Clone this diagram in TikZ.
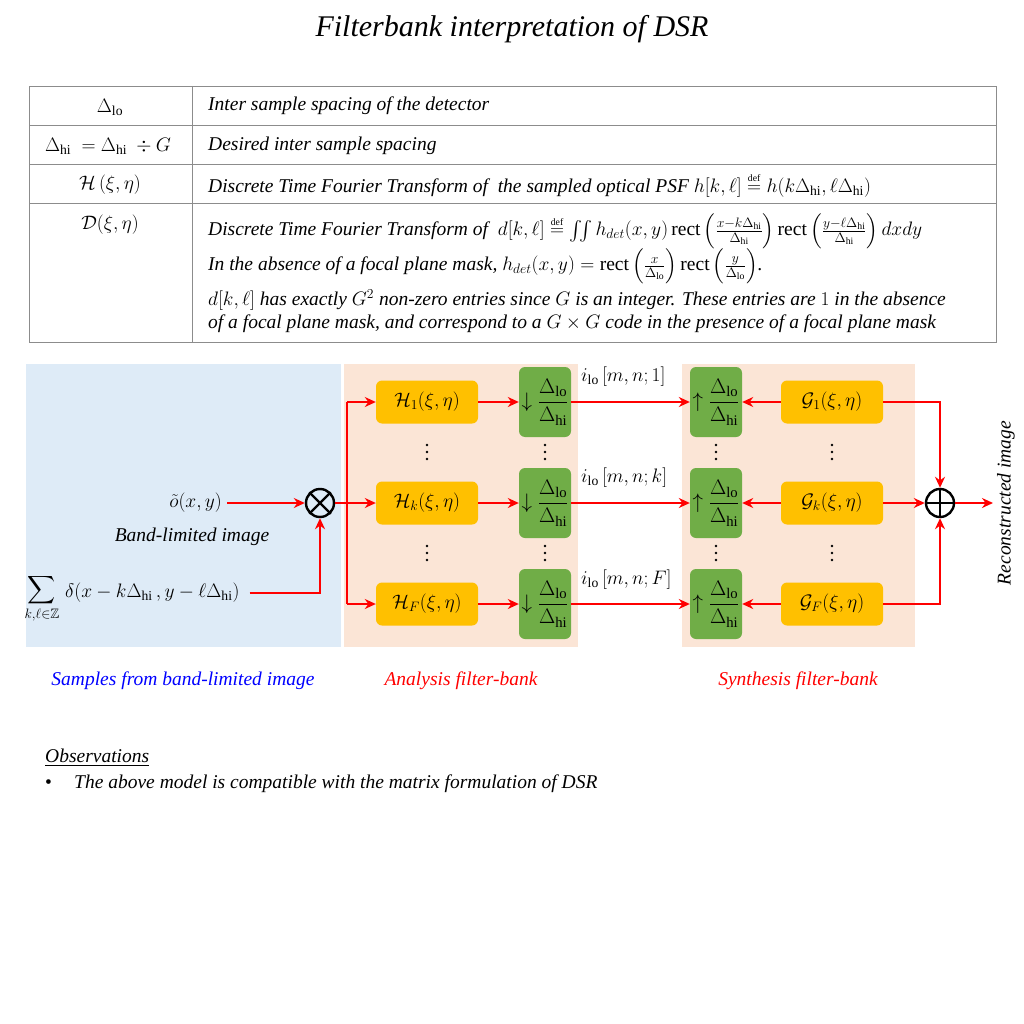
\documentclass[tikz,border=0pt]{standalone}
\usepackage{fix-cm}
\usepackage{amsmath,amssymb}
\usepackage{fontspec}
\setmainfont{Liberation Serif}
\usetikzlibrary{arrows.meta}
\definecolor{bluep}{HTML}{DEEBF7}
\definecolor{peach}{HTML}{FBE5D6}
\definecolor{byellow}{HTML}{FFC000}
\definecolor{bgreen}{HTML}{70AD47}
\definecolor{tgray}{HTML}{8C8C8C}
\definecolor{lblue}{HTML}{0000FF}
\newcommand{\lo}{\mathrm{lo}}
\newcommand{\hi}{\mathrm{hi}}
\newcommand{\mydef}{\stackrel{\scriptscriptstyle\mathrm{def}}{=}}
\tikzset{
 txt/.style={inner sep=0pt},
 itx/.style={inner sep=0pt, font=\fontsize{19.5}{23}\selectfont\itshape, anchor=west},
 tline/.style={draw=tgray, line width=0.9pt},
 hbox/.style={fill=byellow, rounded corners=6pt, minimum width=102pt, minimum height=43pt, inner sep=0pt},
 dbox/.style={fill=bgreen, rounded corners=6pt, minimum width=52pt, minimum height=70pt, inner sep=0pt, font=\fontsize{21}{25}\selectfont},
 wire/.style={draw=red, line width=2pt},
 arr/.style={wire, -{Stealth[length=11pt,width=10pt]}},
 op/.style={circle, draw=black, line width=2.4pt, minimum size=28pt, inner sep=0pt},
 vdot/.style={fill=black},
}
\begin{document}
\begin{tikzpicture}[x=1pt,y=-1pt,font=\fontsize{19.5}{23}\selectfont]
\useasboundingbox (0,0) rectangle (1024,1024);
\fill[white] (0,0) rectangle (1024,1024);
% title
\node[txt,font=\fontsize{30}{36}\selectfont\itshape] (title) at (512,29) {Filterbank interpretation of DSR};
% table
\draw[tline] (29,86) rectangle (996,342);
\draw[tline] (29,125) -- (996,125);
\draw[tline] (29,164) -- (996,164);
\draw[tline] (29,203) -- (996,203);
\draw[tline] (192,86) -- (192,342);
\node[txt] (l1) at (110,107) {$\Delta_{\lo}$};
\node[txt] (l2) at (108,146) {$\Delta_{\hi}\ =\Delta_{\hi}\ \div G$};
\node[txt] (l3) at (110,185) {$\mathcal{H}\,(\xi,\eta)$};
\node[txt] (l4) at (110,225) {$\mathcal{D}(\xi,\eta)$};
\node[itx] (r1) at (208,106) {Inter sample spacing of the detector};
\node[itx] (r2) at (208,146) {Desired inter sample spacing};
\node[itx] (r3) at (208,185) {Discrete Time Fourier Transform of \ the sampled optical PSF $h[k,\ell]\mydef h(k\Delta_{\hi},\ell\Delta_{\hi})$};
\node[itx] (r4a) at (208,231) {Discrete Time Fourier Transform of \ $d[k,\ell]\mydef\iint h_{det}(x,y)\,\mathrm{rect}\left(\tfrac{x-k\Delta_{\hi}}{\Delta_{\hi}}\right)\mathrm{rect}\left(\tfrac{y-\ell\Delta_{\hi}}{\Delta_{\hi}}\right)dxdy$};
\node[itx] (r4b) at (208,266) {In the absence of a focal plane mask, $h_{det}(x,y)=\mathrm{rect}\left(\tfrac{x}{\Delta_{\lo}}\right)\mathrm{rect}\left(\tfrac{y}{\Delta_{\lo}}\right)$.};
\node[itx] (r4c) at (208,300) {$d[k,\ell]$ has exactly $G^2$ non-zero entries since $G$ is an integer. These entries are $1$ in the absence};
\node[itx] (r4d) at (208,324) {of a focal plane mask, and correspond to a $G\times G$ code in the presence of a focal plane mask};
% panels
\fill[bluep] (26,364) rectangle (341,647);
\fill[peach] (344,364) rectangle (578,647);
\fill[peach] (682,364) rectangle (915,647);
% left inputs
\node[op] (mul) at (320,503) {};
\draw[line width=2.4pt] (mul.north west) -- (mul.south east) (mul.north east) -- (mul.south west);
\node[txt,anchor=east] (otil) at (222,503) {$\tilde{o}(x,y)$};
\node[txt,font=\fontsize{19.5}{23}\selectfont\itshape] (bli) at (192,537) {Band-limited image};
\node[txt] (sumsym) at (42,599) {$\displaystyle\sum_{k,\ell\in\mathbb{Z}}$};
\node[txt,anchor=west] (delta) at (65,593) {$\delta(x-k\Delta_{\hi}\,,y-\ell\Delta_{\hi})$};
\draw[arr] ([xshift=5pt]otil.east |- mul.west) -- (mul.west);
\draw[arr] ([xshift=10pt]delta.east) -| (mul.south);
% analysis bank
\node[hbox] (H1) at (427,402) {$\mathcal{H}_1(\xi,\eta)$};
\node[hbox] (Hk) at (427,503) {$\mathcal{H}_k(\xi,\eta)$};
\node[hbox] (HF) at (427,604) {$\mathcal{H}_F(\xi,\eta)$};
\node[dbox] (D1) at (545,402) {$\downarrow\dfrac{\Delta_{\lo}}{\Delta_{\hi}}$};
\node[dbox] (Dk) at (545,503) {$\downarrow\dfrac{\Delta_{\lo}}{\Delta_{\hi}}$};
\node[dbox] (DF) at (545,604) {$\downarrow\dfrac{\Delta_{\lo}}{\Delta_{\hi}}$};
\coordinate (b1) at (347,402);
\coordinate (bk) at (347,503);
\coordinate (bF) at (347,604);
\draw[wire] (mul.east) -- (bk);
\draw[wire] (b1) -- (bF);
\draw[arr] (b1) -- (H1.west);
\draw[arr] (bk) -- (Hk.west);
\draw[arr] (bF) -- (HF.west);
\draw[arr] (H1.east) -- (D1.west);
\draw[arr] (Hk.east) -- (Dk.west);
\draw[arr] (HF.east) -- (DF.west);
% synthesis bank
\node[dbox] (U1) at (716,402) {$\uparrow\dfrac{\Delta_{\lo}}{\Delta_{\hi}}$};
\node[dbox] (Uk) at (716,503) {$\uparrow\dfrac{\Delta_{\lo}}{\Delta_{\hi}}$};
\node[dbox] (UF) at (716,604) {$\uparrow\dfrac{\Delta_{\lo}}{\Delta_{\hi}}$};
\node[hbox] (G1) at (832,402) {$\mathcal{G}_1(\xi,\eta)$};
\node[hbox] (Gk) at (832,503) {$\mathcal{G}_k(\xi,\eta)$};
\node[hbox] (GF) at (832,604) {$\mathcal{G}_F(\xi,\eta)$};
\draw[arr] (D1.east) -- (U1.west);
\draw[arr] (Dk.east) -- (Uk.west);
\draw[arr] (DF.east) -- (UF.west);
\draw[arr] (G1.west) -- (U1.east);
\draw[arr] (Gk.west) -- (Uk.east);
\draw[arr] (GF.west) -- (UF.east);
\node[txt,anchor=west] (i1) at (581,377) {$i_{\lo}\,[m,n;1]$};
\node[txt,anchor=west] (ik) at (581,478) {$i_{\lo}\,[m,n;k]$};
\node[txt,anchor=west] (iF) at (581,580) {$i_{\lo}\,[m,n;F]$};
% dots
\foreach \xx in {427,545,716,832}{
 \foreach \yy in {452,553}{
  \fill[vdot] (\xx,\yy-7) circle (1.3pt) (\xx,\yy) circle (1.3pt) (\xx,\yy+7) circle (1.3pt);
 }
}
% sum
\node[op] (add) at (940,503) {};
\draw[line width=2.4pt] (add.north) -- (add.south) (add.west) -- (add.east);
\draw[arr] (G1.east) -| (add.north);
\draw[arr] (Gk.east) -- (add.west);
\draw[arr] (GF.east) -| (add.south);
\coordinate (outp) at (993,503);
\draw[arr] (add.east) -- (outp);
\node[txt,rotate=90,font=\fontsize{19.5}{23}\selectfont\itshape] (rec) at (1006,503) {Reconstructed image};
% captions
\node[txt,text=lblue,font=\fontsize{19.5}{23}\selectfont\itshape] (cap1) at (183,681) {Samples from band-limited image};
\node[txt,text=red,font=\fontsize{19.5}{23}\selectfont\itshape] (cap2) at (461,681) {Analysis filter-bank};
\node[txt,text=red,font=\fontsize{19.5}{23}\selectfont\itshape] (cap3) at (798,681) {Synthesis filter-bank};
% observations
\node[itx] (obs) at (45,758) {\underline{Observations}};
\node[txt,anchor=west] (bul) at (45,784) {\textbullet};
\node[itx] (obs1) at (74,784) {The above model is compatible with the matrix formulation of DSR};
\end{tikzpicture}
\end{document}
